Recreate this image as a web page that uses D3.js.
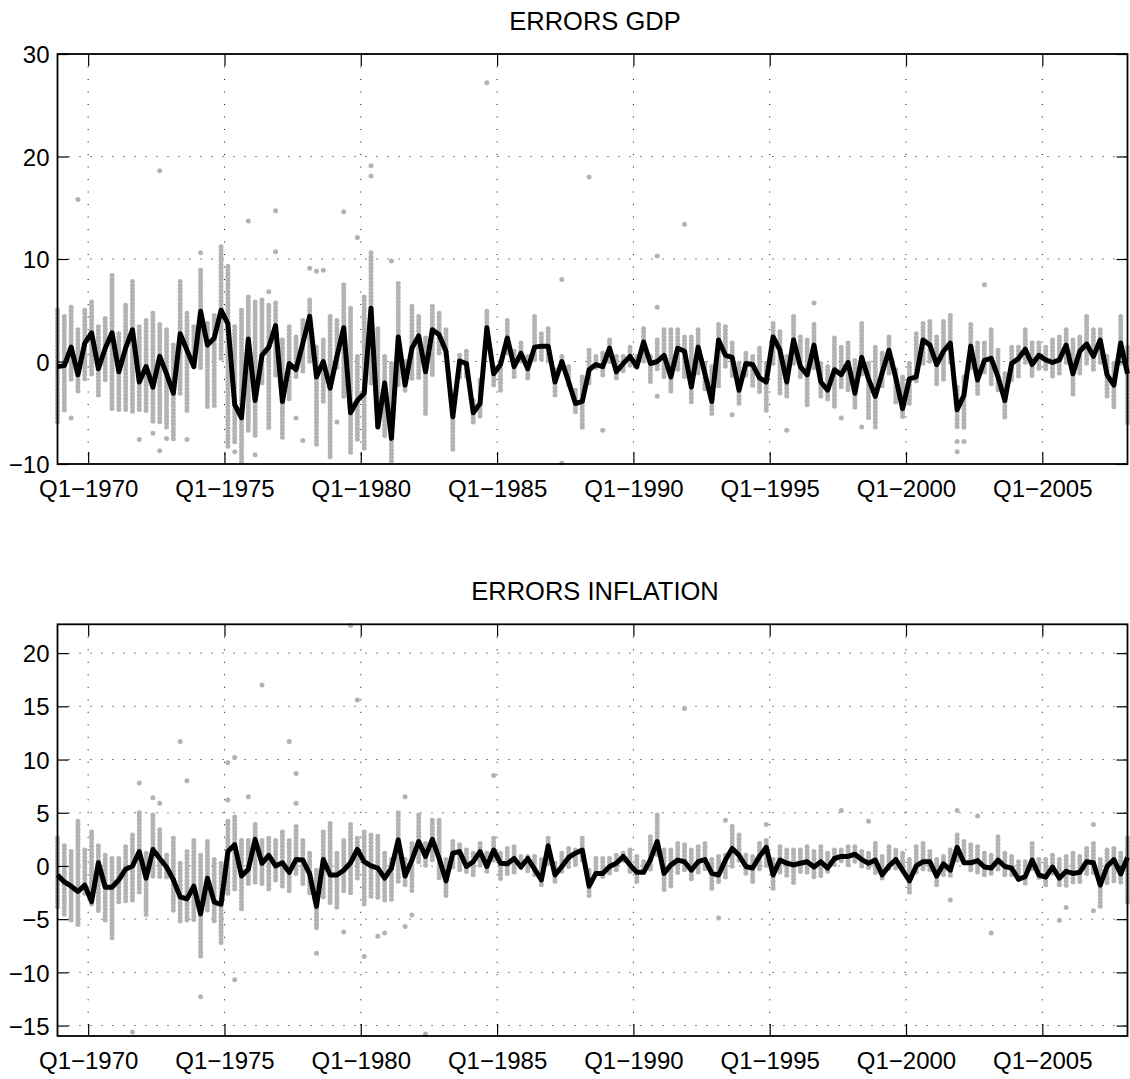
<!DOCTYPE html>
<html>
<head>
<meta charset="utf-8">
<script src="https://cdn.jsdelivr.net/npm/d3@7/dist/d3.min.js"></script>
<style>
  html, body { margin: 0; padding: 0; background: #fff; }
  svg { display: block; }
  text { font-family: "Liberation Sans", Arial, Helvetica, sans-serif; fill: #000; }
</style>
</head>
<body>
<svg id="chart" width="1130" height="1079"></svg>
<script>
// ---------------- DATA ----------------
const startYear = 1968, startQuarter = 4, nQuarters = 158;   // Q4-1968 ... Q1-2008
const tickYears  = [1970, 1975, 1980, 1985, 1990, 1995, 2000, 2005];
const tickLabels = ["Q1\u22121970","Q1\u22121975","Q1\u22121980","Q1\u22121985","Q1\u22121990","Q1\u22121995","Q1\u22122000","Q1\u22122005"];

const gdpTitle = "ERRORS GDP";
const gdpYTicks = [-10, 0, 10, 20, 30];
const gdpMean = [
 -0.5,-0.4,1.4,-1.3,1.8,2.8,-0.7,1.3,2.8,-1.0,
 1.3,3.1,-2.0,-0.5,-2.5,0.5,-1.2,-3.1,2.7,1.1,
 -0.5,4.9,1.6,2.3,5.0,3.7,-4.2,-5.5,2.2,-3.8,
 0.6,1.4,3.5,-3.9,-0.2,-0.8,1.8,4.4,-1.5,0.0,
 -2.6,0.5,3.3,-5.0,-3.8,-3.1,5.2,-6.4,-2.1,-7.5,
 2.4,-2.3,1.3,2.5,-1.0,3.1,2.6,1.0,-5.4,0.05,
 -0.2,-5.0,-4.1,3.3,-1.2,-0.3,2.3,-0.5,0.8,-0.7,
 1.4,1.5,1.5,-2.0,0.0,-2.0,-4.1,-3.9,-0.8,-0.3,
 -0.5,1.3,-1.0,-0.2,0.5,-0.5,1.9,-0.2,0.0,0.6,
 -1.5,1.3,1.0,-2.5,1.4,-1.2,-3.9,2.1,0.6,0.4,
 -2.8,-0.2,-0.3,-1.6,-2.0,2.4,1.1,-2.0,2.1,-0.5,
 -1.3,1.6,-2.0,-2.8,-0.8,-1.3,-0.1,-3.1,0.4,-1.7,
 -3.4,-1.1,1.1,-1.6,-4.6,-1.7,-1.5,2.1,1.6,-0.3,
 1.0,1.8,-4.7,-3.3,1.5,-1.8,0.1,0.3,-1.5,-3.8,
 -0.2,0.3,1.2,-0.3,0.6,0.15,-0.1,0.15,1.6,-1.2,
 1.0,1.7,0.5,2.1,-1.3,-2.3,1.8,-1.2
];
const gdpHigh = [
 5.0,4.4,5.3,3.1,5.0,5.8,3.4,4.2,8.4,2.7,
 5.5,7.8,3.4,4.0,4.7,3.6,3.1,1.6,7.8,4.7,
 3.4,8.9,3.7,4.5,11.2,9.3,3.4,5.0,6.3,5.8,
 6.0,5.5,5.7,2.1,3.4,2.4,4.0,6.0,1.4,2.1,
 4.4,4.0,7.5,5.2,0.5,6.3,10.2,3.2,0.5,-0.2,
 7.6,0.0,5.4,4.4,2.3,5.4,4.7,3.1,-4.7,0.6,
 1.0,-3.8,-1.8,4.9,-0.5,0.0,4.0,1.0,1.8,0.5,
 4.4,2.7,3.2,-0.8,0.5,-0.5,-2.8,-1.5,1.1,0.5,
 0.8,2.1,0.5,0.5,1.4,0.5,3.2,0.5,2.1,3.1,
 3.1,3.1,2.4,2.4,3.1,-0.2,-0.5,3.6,3.4,1.8,
 -0.2,0.8,0.5,1.3,-0.2,3.7,2.9,0.5,4.4,2.4,
 2.1,3.6,-0.2,-0.5,2.3,1.4,1.8,0.1,3.7,-0.2,
 1.4,0.8,2.4,-0.8,-1.5,-0.2,2.7,3.7,3.9,2.4,
 3.9,4.5,-2.5,-1.5,3.6,1.8,1.8,3.1,1.1,-1.2,
 1.4,1.4,3.1,1.8,1.8,1.4,2.1,2.4,3.1,2.1,
 2.4,4.4,3.1,3.1,0.5,-0.2,4.4,1.4
];
const gdpLow = [
 -6.0,-4.9,-1.8,-3.1,-1.8,-1.5,-3.3,-1.8,-4.9,-4.9,
 -4.9,-4.9,-4.7,-4.9,-6.0,-6.0,-6.4,-7.7,-3.1,-4.9,
 -0.8,-0.8,-4.4,-4.6,0.1,-8.6,-8.0,-10.0,-6.7,-7.5,
 -2.3,-6.5,-1.5,-7.5,-3.9,-1.8,-1.2,-0.2,-8.3,-4.1,
 -9.6,-0.8,-3.4,-9.0,-7.7,-8.8,-2.1,-6.5,-7.3,-10.0,
 -2.4,-3.1,-1.8,-1.6,-5.4,-1.3,0.5,0.5,-8.8,-1.8,
 -1.5,-6.0,-5.4,2.4,-2.3,-3.1,0.6,-1.6,0.0,-1.8,
 0.0,0.0,0.0,-3.4,-0.8,-2.5,-5.2,-6.7,-2.1,-0.8,
 -1.5,-0.2,-1.8,-1.2,-0.5,-0.8,-0.2,-2.1,-0.8,-1.5,
 -3.1,-0.8,-1.5,-4.1,-1.2,-2.8,-5.4,-2.5,-0.8,-1.5,
 -4.4,-1.5,-2.5,-3.1,-5.0,-0.2,-3.1,-3.4,-0.2,-1.5,
 -4.4,-0.8,-3.4,-3.8,-4.7,-2.5,-2.8,-4.7,-1.5,-5.7,
 -6.0,-2.5,-1.2,-4.1,-5.4,-4.4,-2.0,-0.5,-0.2,-2.3,
 -1.8,-0.2,-6.4,-6.7,-0.8,-3.4,-1.2,-2.5,-3.1,-5.7,
 -1.8,-1.5,-0.2,-1.5,-0.8,-0.8,-1.5,-1.2,-0.2,-3.4,
 -1.2,-0.2,-0.8,-0.2,-3.4,-4.7,-0.2,-6.0
];
// [quarter index, error] for isolated forecaster dots
const gdpOutliers = [
 [3,15.8],[15,18.6],[28,13.7],[32,14.7],[38,8.8],[42,14.6],[44,12.1],[46,19.1],[46,18.1],
 [63,27.2],[78,18.0],[88,10.3],[92,13.4],[136,7.5],[111,5.7],[74,8.0],[74,-9.9],[21,10.6],
 [32,10.7],[39,8.9],[37,9.1],[31,6.8],[46,10.6],[49,9.8],[2,-5.5],[35,-5.5],[41,-5.9],
 [88,5.3],[88,-3.4],[99,-5.2],[107,-6.7],[115,-5.5],[118,-6.4],[132,-8.8],[132,-7.8],
 [80,-6.7],[12,-7.6],[14,-7.0],[15,-8.7],[16,-7.5],[19,-7.6],[26,-8.8],[29,-9.1],[36,-7.7],
 [120,-6.4],[133,-7.8]
];

const infTitle = "ERRORS INFLATION";
const infYTicks = [-15, -10, -5, 0, 5, 10, 15, 20];
const infMean = [
 -0.85,-1.5,-1.9,-2.4,-1.8,-3.35,0.3,-2.0,-2.0,-1.3,
 -0.3,0.0,1.35,-1.15,1.55,0.7,-0.1,-1.3,-2.9,-3.1,
 -1.9,-4.5,-1.15,-3.4,-3.6,1.35,2.0,-0.95,-0.3,2.5,
 0.25,1.0,0.0,0.3,-0.6,0.6,0.55,-0.75,-3.8,0.6,
 -0.85,-0.85,-0.4,0.3,1.55,0.4,0.0,-0.2,-1.15,-0.2,
 2.45,-0.95,0.55,2.3,0.9,2.5,0.7,-1.4,1.2,1.35,
 -0.05,0.4,1.35,-0.05,1.5,0.25,0.2,0.7,-0.1,0.7,
 -0.3,-1.3,1.9,-0.85,-0.05,0.8,1.2,1.5,-1.9,-0.7,
 -0.7,-0.05,0.25,0.9,0.1,-0.6,-0.6,0.6,2.3,-0.7,
 0.1,0.55,0.4,-0.4,0.4,0.6,-0.7,-0.85,0.55,1.65,
 1.0,-0.05,-0.2,0.9,1.75,-0.85,0.55,0.25,0.1,0.25,
 0.4,-0.1,0.4,-0.2,0.7,0.9,0.9,1.1,0.6,0.25,
 0.55,-0.85,0.0,0.6,-0.4,-1.4,0.0,0.4,0.4,-0.95,
 0.2,-0.4,1.75,0.3,0.3,0.5,-0.1,-0.2,0.55,-0.05,
 -0.2,-1.25,-1.0,0.55,-0.85,-1.05,-0.1,-1.15,-0.5,-0.7,
 -0.6,0.4,0.3,-1.8,-0.05,0.6,-0.75,0.8
];
const infHigh = [
 2.6,1.9,1.35,4.2,1.5,3.2,1.9,1.0,0.7,0.7,
 1.8,2.9,5.0,1.2,4.8,3.4,1.0,2.6,0.25,1.35,
 2.4,1.0,2.3,0.6,0.25,4.2,4.6,2.4,2.4,3.9,
 2.4,2.6,2.4,3.2,2.4,3.7,2.4,1.2,-0.4,3.2,
 4.0,1.2,2.4,3.9,2.6,3.2,2.9,2.8,1.2,0.6,
 5.0,0.6,2.1,4.8,2.1,4.3,4.3,0.6,2.3,2.0,
 1.5,1.2,2.1,1.2,2.6,1.2,1.65,1.8,0.9,0.9,
 0.9,0.6,2.6,0.25,1.2,1.65,1.5,2.6,-0.4,0.7,
 0.7,0.7,1.0,1.2,1.5,0.9,0.4,2.75,4.8,1.5,
 1.5,2.1,2.0,1.5,1.8,2.1,0.6,0.9,1.0,3.7,
 2.9,1.0,0.9,2.1,2.4,0.6,1.8,1.5,1.5,1.5,
 1.8,1.35,1.8,1.2,1.5,1.5,1.8,1.8,1.35,1.2,
 2.1,0.9,1.8,1.5,1.2,0.6,1.8,2.1,1.35,0.6,
 0.9,1.5,2.9,2.3,2.0,1.8,1.2,1.0,2.75,1.2,
 0.9,0.4,0.4,2.1,0.6,0.6,1.0,0.6,0.9,1.2,
 0.9,1.65,2.1,0.6,1.5,1.65,1.2,2.6
];
const infLow = [
 -4.1,-4.8,-5.2,-5.5,-2.6,-3.8,-4.3,-5.1,-7.0,-3.5,
 -3.5,-3.5,-2.6,-4.8,-1.0,-1.3,-1.3,-4.4,-5.4,-5.4,
 -5.1,-8.5,-4.4,-5.4,-7.4,-2.6,-2.3,-4.3,-1.9,-1.8,
 -1.9,-2.3,-1.6,-1.9,-2.6,-1.0,-1.8,-2.6,-6.0,-3.2,
 -3.5,-4.1,-2.6,-2.6,-1.2,-3.8,-2.9,-3.2,-3.2,-3.2,
 -1.6,-1.9,-2.3,0.25,-0.05,0.25,-1.3,-2.9,-0.4,-0.4,
 -0.85,-0.85,-0.05,-0.7,0.25,-1.3,-0.85,-0.85,-0.4,-0.7,
 -1.0,-1.9,-0.05,-1.6,-0.7,-0.05,-0.05,0.25,-2.9,-0.7,
 -1.3,-0.7,-0.4,0.25,-0.7,-1.5,-0.7,-0.4,0.9,-2.3,
 -1.9,-0.85,-0.7,-1.5,-0.7,-0.4,-2.3,-1.6,-1.3,-0.05,
 0.25,-0.7,-1.5,-0.4,-0.05,-2.4,-0.7,-1.0,-1.8,-0.7,
 -0.7,-1.3,-1.15,-0.7,-0.05,0.25,-0.05,0.25,-0.05,-0.4,
 -0.7,-1.15,-0.4,-0.4,-0.7,-2.6,-0.85,-0.4,-0.4,-1.8,
 -1.0,-1.15,0.25,-0.05,-0.4,-0.85,-0.85,-1.0,-0.4,-0.85,
 -0.85,-1.3,-1.9,-0.4,-1.3,-1.8,-1.0,-2.1,-1.9,-1.6,
 -1.6,-1.0,-0.7,-3.8,-1.6,-1.6,-1.6,-3.2
];
const infOutliers = [
 [43,22.6],[30,17.0],[44,15.6],[92,14.8],[18,11.7],[34,11.7],[26,10.2],[25,9.7],[64,8.5],
 [19,8.0],[35,8.7],[12,7.8],[14,6.4],[15,5.9],[25,6.2],[28,6.5],[35,5.9],[51,6.5],
 [21,-12.3],[26,-10.7],[11,-15.6],[54,-15.8],[45,-8.5],[38,-8.2],[137,-6.3],[97,-4.9],
 [42,-6.2],[47,-6.6],[48,-6.3],[51,-5.7],[52,-4.6],[3,-5.5],[115,5.2],[119,4.2],[98,4.3],
 [104,3.9],[132,5.2],[135,4.7],[152,3.9],[147,-5.1],[131,-3.2],[152,-4.2],[148,-3.9],[157,-3.4]
];

// ---------------- LAYOUT ----------------
const plotLeft = 57.5, plotRight = 1127.5;
const panels = [
  { title: gdpTitle, mean: gdpMean, lo: gdpLow, hi: gdpHigh, out: gdpOutliers,
    domain: [-10, 30], yTicks: gdpYTicks, top: 54, bottom: 464 },
  { title: infTitle, mean: infMean, lo: infLow, hi: infHigh, out: infOutliers,
    domain: [-15.98, 22.71], yTicks: infYTicks, top: 624.3, bottom: 1036 }
];

const GREY = "#b3b3b3";
const fmtNum = d => (d < 0 ? "\u2212" + Math.abs(d) : String(d));

function tOf(i) {
  const q0 = (startQuarter - 1) + i;
  return startYear + Math.floor(q0 / 4) + ((q0 % 4) + 0.5) / 4;
}
const quarters = d3.range(nQuarters).map(tOf);

const svg = d3.select("#chart");
const x = d3.scaleLinear().domain([quarters[0], quarters[nQuarters - 1]]).range([plotLeft, plotRight]);

panels.forEach(p => {
  const y = d3.scaleLinear().domain(p.domain).range([p.bottom, p.top]);
  const g = svg.append("g");

  // grid lines
  g.append("g").selectAll("line").data(p.yTicks).join("line")
    .attr("x1", plotLeft).attr("x2", plotRight)
    .attr("y1", d => y(d)).attr("y2", d => y(d))
    .attr("stroke", "#111").attr("stroke-width", 1).attr("stroke-dasharray", "1 10");
  g.append("g").selectAll("line").data(tickYears).join("line")
    .attr("x1", d => x(d)).attr("x2", d => x(d))
    .attr("y1", p.top).attr("y2", p.bottom)
    .attr("stroke", "#111").attr("stroke-width", 1).attr("stroke-dasharray", "1 11.5");

  // forecaster error strips (range of the forecasts for each quarter)
  g.append("g").selectAll("line").data(d3.range(nQuarters)).join("line")
    .attr("x1", i => x(quarters[i])).attr("x2", i => x(quarters[i]))
    .attr("y1", i => y(p.hi[i])).attr("y2", i => y(p.lo[i]))
    .attr("stroke", GREY).attr("stroke-width", 5)
    .attr("stroke-linecap", "round").attr("stroke-dasharray", "0 3.6");

  // isolated forecaster dots
  g.append("g").selectAll("circle").data(p.out).join("circle")
    .attr("cx", d => x(quarters[d[0]])).attr("cy", d => y(d[1]))
    .attr("r", 2.5).attr("fill", GREY);

  // mean error line
  const line = d3.line().x((d, i) => x(quarters[i])).y(d => y(d));
  g.append("path").datum(p.mean)
    .attr("d", line).attr("fill", "none")
    .attr("stroke", "#000").attr("stroke-width", 5)
    .attr("stroke-linejoin", "round");

  // axes (ticks inside, box)
  const bottomAxis = d3.axisBottom(x).tickValues(tickYears)
    .tickFormat((d, i) => tickLabels[i]).tickSizeInner(-12).tickSizeOuter(0).tickPadding(15.5);
  const topAxis = d3.axisTop(x).tickValues(tickYears).tickFormat("").tickSizeInner(-12).tickSizeOuter(0);
  const leftAxis = d3.axisLeft(y).tickValues(p.yTicks).tickFormat(fmtNum)
    .tickSizeInner(-11).tickSizeOuter(0).tickPadding(8);
  const rightAxis = d3.axisRight(y).tickValues(p.yTicks).tickFormat("").tickSizeInner(-11).tickSizeOuter(0);

  const styleAxis = sel => {
    sel.select(".domain").remove();
    sel.selectAll(".tick line").attr("stroke", "#000").attr("stroke-width", 1.2);
    sel.selectAll(".tick text").attr("font-size", 24)
      .attr("font-family", "'Liberation Sans', Arial, Helvetica, sans-serif").attr("fill", "#000");
  };
  g.append("g").attr("transform", `translate(0,${p.bottom})`).call(bottomAxis).call(styleAxis);
  g.append("g").attr("transform", `translate(0,${p.top})`).call(topAxis).call(styleAxis);
  g.append("g").attr("transform", `translate(${plotLeft},0)`).call(leftAxis).call(styleAxis)
    .selectAll(".tick text").attr("dy", "0.36em");
  g.append("g").attr("transform", `translate(${plotRight},0)`).call(rightAxis).call(styleAxis);

  g.append("rect")
    .attr("x", plotLeft).attr("y", p.top)
    .attr("width", plotRight - plotLeft).attr("height", p.bottom - p.top)
    .attr("fill", "none").attr("stroke", "#000").attr("stroke-width", 1.8);

  // title
  g.append("text")
    .attr("x", 595).attr("y", p.top - 24)
    .attr("text-anchor", "middle").attr("font-size", 25.5)
    .text(p.title);
});
</script>
</body>
</html>
